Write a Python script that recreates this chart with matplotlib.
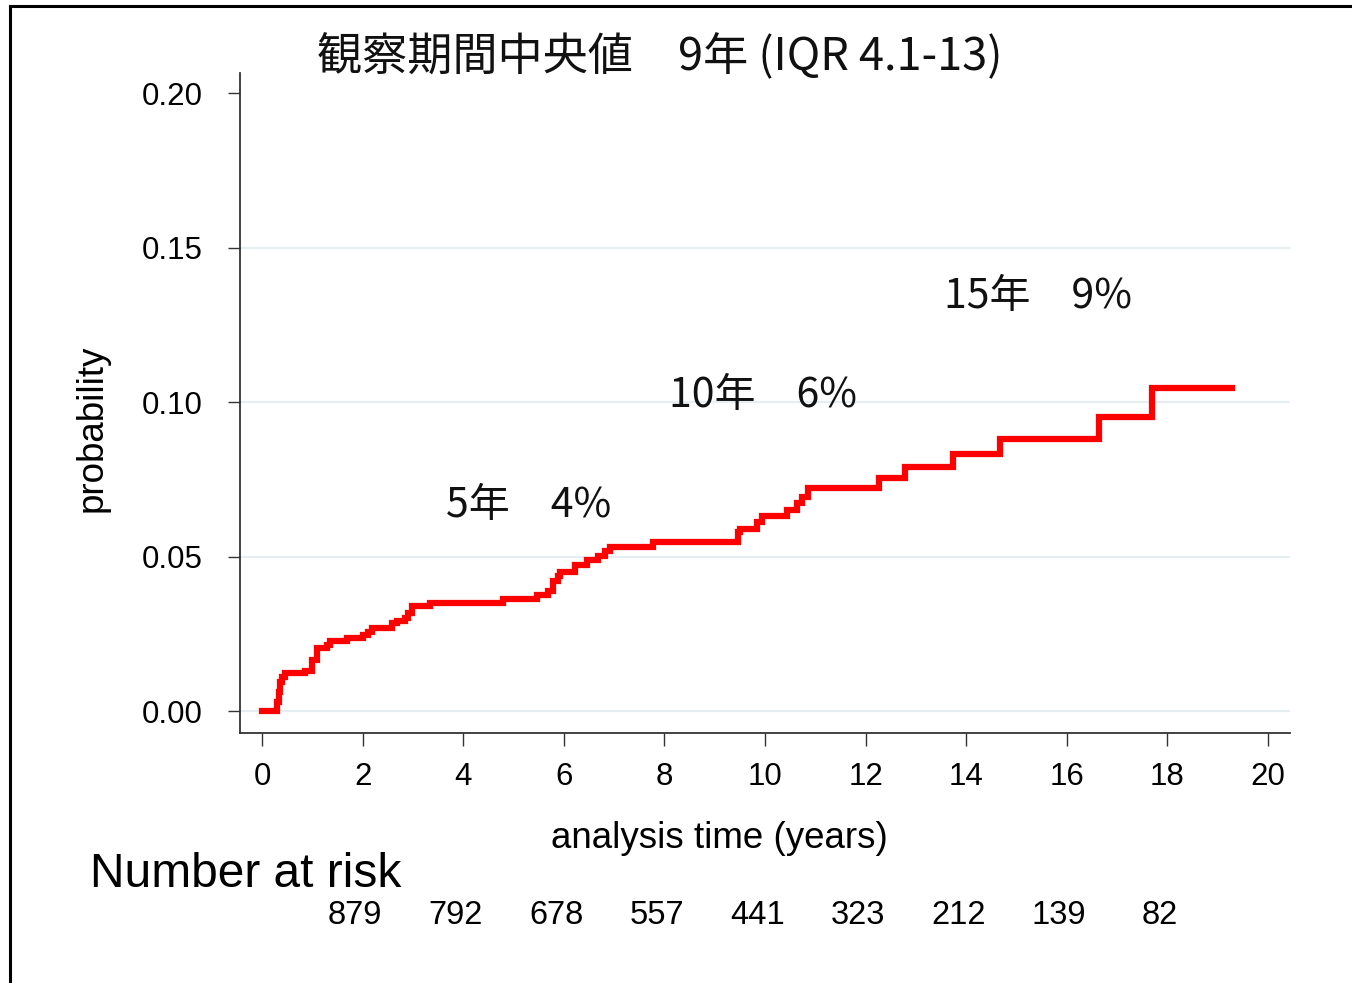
import numpy as np
import matplotlib
matplotlib.use("Agg")
import matplotlib.pyplot as plt
from matplotlib.lines import Line2D
from matplotlib.transforms import blended_transform_factory

# ============================================================
# Data
# ============================================================
step_times = [0.0, 0.26, 0.30, 0.33, 0.36, 0.40, 0.45, 0.85, 1.0, 1.1, 1.29, 1.35, 1.69,
              2.0, 2.1, 2.18, 2.58, 2.68, 2.84, 2.9, 2.98, 3.34, 4.79, 5.47, 5.69, 5.79,
              5.88, 5.92, 6.22, 6.46, 6.68, 6.82, 6.92, 7.77, 9.46, 9.5, 9.84, 9.94,
              10.43, 10.64, 10.73, 10.85, 12.27, 12.78, 13.74, 14.67, 16.64, 17.69, 19.28]
step_probs = [0.0, 0.0, 0.0030, 0.0062, 0.0094, 0.0110, 0.0123, 0.0130, 0.0165, 0.0204,
              0.0214, 0.0227, 0.0237, 0.0246, 0.0256, 0.0270, 0.0285, 0.0290, 0.0300,
              0.0318, 0.0340, 0.0350, 0.0363, 0.0376, 0.0390, 0.0420, 0.0437, 0.0450,
              0.0473, 0.0490, 0.0502, 0.0519, 0.0532, 0.0548, 0.0580, 0.0590, 0.0613,
              0.0632, 0.0652, 0.0674, 0.0694, 0.0723, 0.0755, 0.0790, 0.0833, 0.0882,
              0.0953, 0.1047, 0.1047]

risk_times = [2, 4, 6, 8, 10, 12, 14, 16, 18]
risk_counts = [879, 792, 678, 557, 441, 323, 212, 139, 82]

annot_text = ["5年\u30004%", "10年\u30006%", "15年\u30009%"]
annot_x = [3.65, 8.1, 13.55]
annot_y = [0.0628, 0.0985, 0.1305]

x_ticks = list(range(0, 21, 2))
y_ticks = [0.00, 0.05, 0.10, 0.15, 0.20]

TITLE = "観察期間中央値\u30009年 (IQR 4.1-13)"

# ============================================================
# Figure
# ============================================================
W, H = 1352, 983
fig = plt.figure(figsize=(W / 100, H / 100), dpi=100)
ax = fig.add_axes([240 / W, 1 - 733 / H, (1290 - 240) / W, (733 - 73) / H])

ax.step(step_times, step_probs, where="post", color="#ff0000", lw=4.5,
        solid_joinstyle="miter", zorder=3)

ax.set_xlim(-0.44, 20.44)
ax.set_ylim(-0.0071, 0.2065)
ax.set_xticks(x_ticks)
ax.set_yticks(y_ticks)
ax.set_yticklabels([f"{v:.2f}" for v in y_ticks])

for v in y_ticks[:-1]:
    ax.axhline(v, color="#e6eef1", lw=1.6, zorder=1)

for side in ["top", "right"]:
    ax.spines[side].set_visible(False)
for side in ["left", "bottom"]:
    ax.spines[side].set_color("#333333")
    ax.spines[side].set_linewidth(1.3)

ax.tick_params(axis="both", direction="out", length=9, width=1.0, color="#333333",
               labelsize=22.5, labelcolor="black")
ax.tick_params(axis="y", pad=18)
ax.tick_params(axis="x", pad=12)
for lab in ax.get_xticklabels() + ax.get_yticklabels():
    lab.set_fontfamily("Liberation Sans")

# annotations
for txt, xv, yv in zip(annot_text, annot_x, annot_y):
    ax.text(xv, yv, txt, fontsize=29.5, family=["Noto Sans CJK JP", "DejaVu Sans"],
            ha="left", va="baseline", color="#111111")

# title and axis labels
fig.text(660 / W, 1 - 70 / H, TITLE, fontsize=32.5, ha="center", va="baseline",
         family=["Noto Sans CJK JP", "DejaVu Sans"], color="#111111")
fig.text(719 / W, 1 - 838 / H, "analysis time (years)", fontsize=26.5, ha="center",
         va="center", family="Liberation Sans")
fig.text(92 / W, 1 - 428 / H, "probability", fontsize=26.5, ha="center", va="center",
         rotation=90, family="Liberation Sans")

# number at risk table
fig.text(90 / W, 1 - 887 / H, "Number at risk", fontsize=34.5, ha="left",
         va="baseline", family="Liberation Sans")
trans = blended_transform_factory(ax.transData, fig.transFigure)
for t, n in zip(risk_times, risk_counts):
    ax.text(t - 0.15, 1 - 916 / H, str(n), transform=trans, fontsize=23.5,
            ha="center", va="center", family="Liberation Sans", clip_on=False)

# outer frame (left and top edges)
fig.add_artist(Line2D([10 / W, 10 / W], [0, 1 - 6 / H], transform=fig.transFigure,
                      color="black", lw=2.2))
fig.add_artist(Line2D([10 / W, 1], [1 - 6 / H, 1 - 6 / H], transform=fig.transFigure,
                      color="black", lw=2.2))

fig.savefig("out.png", dpi=100)
